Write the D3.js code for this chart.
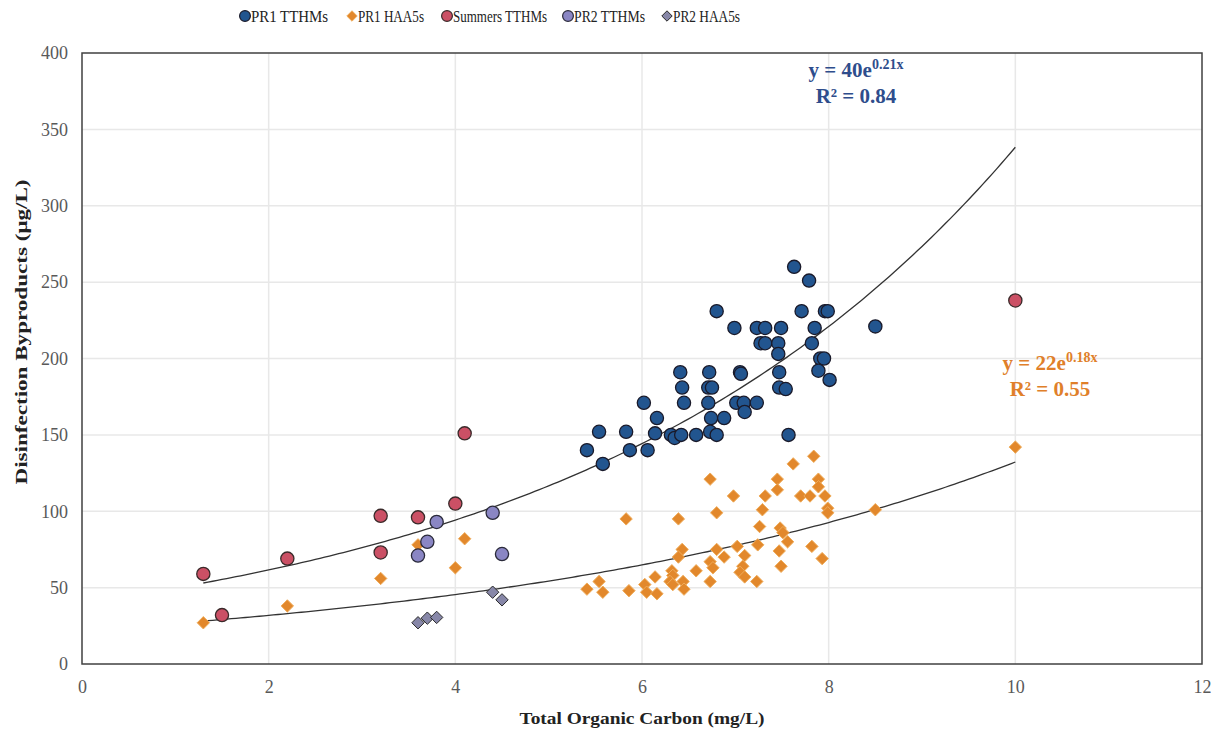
<!DOCTYPE html>
<html><head><meta charset="utf-8">
<script src="https://cdn.jsdelivr.net/npm/d3@7/dist/d3.min.js"></script>
<style>body{margin:0;background:#fff}svg{display:block}svg text{font-family:"Liberation Serif","Times New Roman",serif}</style>
</head><body><svg id="c" width="1221" height="732"></svg>
<script>
// ---- data ----
const pr1TTHMs = [
 [7.63,260],[7.79,251],[6.80,231],[7.71,231],[7.96,231],[7.99,231],
 [6.99,220],[7.23,220],[7.32,220],[7.49,220],[7.85,220],[8.50,221],
 [7.27,210],[7.32,210],[7.46,210],[7.82,210],[7.46,203],[7.91,200],[7.95,200],
 [7.89,192],[8.01,186],[6.41,191],[6.72,191],[7.05,191],[7.06,190],[7.47,191],
 [6.43,181],[6.71,181],[6.75,181],[7.47,181],[7.54,180],
 [6.02,171],[6.45,171],[6.71,171],[7.01,171],[7.09,171],[7.10,165],[7.23,171],
 [6.16,161],[6.74,161],[6.88,161],
 [5.54,152],[5.83,152],[6.14,151],[6.31,150],[6.35,148],[6.42,150],[6.58,150],[6.73,152],[6.80,150],[7.57,150],
 [5.41,140],[5.87,140],[6.06,140],[5.58,131]
];
const pr1HAA5s = [
 [1.30,27],[2.20,38],[3.20,56],[3.60,78],[4.00,63],[4.10,82],
 [5.83,95],[6.39,95],[6.73,121],[6.98,110],[6.80,99],[7.32,110],[7.29,101],
 [7.45,121],[7.45,114],[7.62,131],[7.84,136],[7.89,121],[7.89,116],
 [7.70,110],[7.80,110],[7.96,110],[7.99,102],[7.99,99],[8.50,101],
 [7.26,90],[7.48,89],[7.51,86],[7.56,80],[7.24,78],[7.02,77],[6.80,75],
 [6.43,75],[6.39,70],[7.10,71],[7.08,64],[7.05,60],[7.10,57],[7.23,54],
 [6.88,70],[6.73,67],[6.76,63],[6.58,61],[6.73,54],[7.47,74],[7.49,64],
 [7.82,77],[7.93,69],[6.32,61],[6.33,58],[6.30,54],[6.33,52],[6.44,54],[6.45,49],
 [6.14,57],[6.03,52],[6.05,47],[6.16,46],[5.86,48],[5.54,54],[5.41,49],[5.58,47],
 [10.0,142]
];
const summersTTHMs = [[1.30,59],[1.50,32],[2.20,69],[3.20,97],[3.20,73],[3.60,96],[4.00,105],[4.10,151],[10.0,238]];
const pr2TTHMs = [[3.80,93],[3.70,80],[3.60,71],[4.40,99],[4.50,72]];
const pr2HAA5s = [[3.60,27],[3.70,30],[3.80,30.5],[4.40,47],[4.50,42]];
const xTicks = [0,2,4,6,8,10,12];
const yTicks = [0,50,100,150,200,250,300,350,400];
const trendTTHM = {a:40.2, b:0.213, x0:1.3, x1:10};
const trendHAA5 = {a:22.3, b:0.178, x0:1.3, x1:10};

// ---- layout ----
const FONT = "Liberation Serif";
const svg = d3.select("#c");
const L=82, R=1202, T=53, B=664;
const x = d3.scaleLinear().domain([0,12]).range([L,R]);
const y = d3.scaleLinear().domain([0,400]).range([B,T]);

// grid
svg.append("g").selectAll("line").data(yTicks.slice(1,-1)).join("line")
 .attr("x1",L).attr("x2",R).attr("y1",d=>y(d)).attr("y2",d=>y(d))
 .attr("stroke","#e8e8e8").attr("stroke-width",1.5);
svg.append("g").selectAll("line").data(xTicks.slice(1,-1)).join("line")
 .attr("y1",T).attr("y2",B).attr("x1",d=>x(d)).attr("x2",d=>x(d))
 .attr("stroke","#e8e8e8").attr("stroke-width",1.5);

// axes (labels only, using d3 axis)
const xAxis = svg.append("g").attr("transform",`translate(0,${B})`)
 .call(d3.axisBottom(x).tickValues(xTicks).tickSize(0).tickPadding(16));
const yAxis = svg.append("g").attr("transform",`translate(${L},0)`)
 .call(d3.axisLeft(y).tickValues(yTicks).tickSize(0).tickPadding(14));
[xAxis,yAxis].forEach(g=>{g.attr("font-family",FONT).attr("font-size",18); g.select(".domain").remove();
 g.selectAll("text").style("font-size","18px").attr("fill","#595959")
  .style("font-family",FONT);});

// frame
svg.append("rect").attr("x",L).attr("y",T).attr("width",R-L).attr("height",B-T)
 .attr("fill","none").attr("stroke","#404040").attr("stroke-width",1.5);

// trend lines
function trend(t){
 const xs=d3.range(t.x0,t.x1+0.001,0.05);
 return d3.line().x(d=>x(d)).y(d=>y(t.a*Math.exp(t.b*d)))(xs);
}
svg.append("path").attr("d",trend(trendTTHM)).attr("fill","none").attr("stroke","#333").attr("stroke-width",1.3);
svg.append("path").attr("d",trend(trendHAA5)).attr("fill","none").attr("stroke","#333").attr("stroke-width",1.3);

// markers
function diamondPath(s){return `M0,${-s}L${s},0L0,${s}L${-s},0Z`;}
function circles(data,fill,stroke){
 svg.append("g").selectAll("circle").data(data).join("circle")
  .attr("cx",d=>x(d[0])).attr("cy",d=>y(d[1])).attr("r",6.6)
  .attr("fill",fill).attr("stroke",stroke).attr("stroke-width",1.3);
}
function diamonds(data,fill,stroke){
 svg.append("g").selectAll("path").data(data).join("path")
  .attr("d",diamondPath(6.2)).attr("transform",d=>`translate(${x(d[0])},${y(d[1])})`)
  .attr("fill",fill).attr("stroke",stroke).attr("stroke-width",1);
}
diamonds(pr1HAA5s,"#e2882c","#efac5a");
circles(pr1TTHMs,"#22558f","#1a1a2a");
circles(summersTTHMs,"#cb5065","#3a2a2a");
circles(pr2TTHMs,"#8a86c4","#2a2a3a");
diamonds(pr2HAA5s,"#8787a8","#2a2a2a");

// equations
const eq = svg.append("g").attr("font-weight","bold");
function eqText(cx,cy,a,b,r2,col){
 const t1 = eq.append("text").attr("x",cx).attr("y",cy).attr("text-anchor","middle")
  .attr("fill",col).style("font-size","21px");
 t1.append("tspan").text(`y = ${a}e`);
 t1.append("tspan").attr("dy",-8).style("font-size","14px").text(`${b}x`);
 eq.append("text").attr("x",cx).attr("y",cy+26).attr("text-anchor","middle")
  .attr("fill",col).style("font-size","21px").text(`R² = ${r2}`);
}
eqText(856,77,"40","0.21","0.84","#2e4d8c");
eqText(1050,370,"22","0.18","0.55","#e07f2a");

// axis titles
svg.append("text").attr("x",642).attr("y",724).attr("text-anchor","middle")
 .attr("font-weight","bold").style("font-size","17px").attr("fill","#222")
 .attr("textLength",245).attr("lengthAdjust","spacingAndGlyphs").text("Total Organic Carbon (mg/L)");
svg.append("text").attr("transform","translate(27,332) rotate(-90)").attr("text-anchor","middle")
 .attr("font-weight","bold").style("font-size","17px").attr("fill","#222")
 .attr("textLength",305).attr("lengthAdjust","spacingAndGlyphs").text("Disinfection Byproducts (μg/L)");

// legend
const legend = [
 {name:"PR1 TTHMs",shape:"c",fill:"#22558f",stroke:"#1a1a2a",x:245,w:77},
 {name:"PR1 HAA5s",shape:"d",fill:"#e2882c",stroke:"#efac5a",x:352,w:66},
 {name:"Summers TTHMs",shape:"c",fill:"#cb5065",stroke:"#3a2a2a",x:447,w:94},
 {name:"PR2 TTHMs",shape:"c",fill:"#8a86c4",stroke:"#2a2a3a",x:568,w:71},
 {name:"PR2 HAA5s",shape:"d",fill:"#8787a8",stroke:"#2a2a2a",x:667,w:67}
];
const lg = svg.append("g");
legend.forEach(d=>{
 if(d.shape==="c") lg.append("circle").attr("cx",d.x).attr("cy",16).attr("r",5.4).attr("fill",d.fill).attr("stroke",d.stroke).attr("stroke-width",1.2);
 else lg.append("path").attr("d",diamondPath(5.2)).attr("transform",`translate(${d.x},16)`).attr("fill",d.fill).attr("stroke",d.stroke);
 lg.append("text").attr("x",d.x+6).attr("y",22).style("font-size","16px").attr("fill","#222")
  .attr("textLength",d.w).attr("lengthAdjust","spacingAndGlyphs").text(d.name);
});
</script></body></html>
